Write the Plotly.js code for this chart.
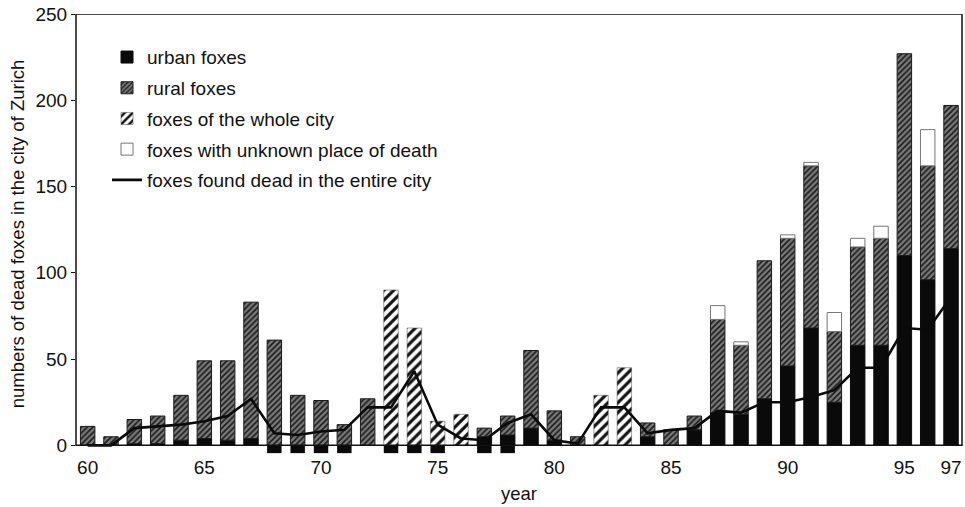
<!DOCTYPE html>
<html>
<head>
<meta charset="utf-8">
<script src="https://cdn.plot.ly/plotly-3.0.1.min.js"></script>
<style>html,body{margin:0;padding:0;background:#fff;}#chart{width:965px;height:507px;}</style>
</head>
<body>
<div id="chart"></div>
<script>
const years = [60,61,62,63,64,65,66,67,68,69,70,71,72,73,74,75,76,77,78,79,80,81,82,83,84,85,86,87,88,89,90,91,92,93,94,95,96,97];
const urbanFoxes = [null,null,1,1,3,4,3,4,null,null,null,null,null,null,null,null,null,5,6,10,3,null,null,null,5,null,9,19,18,27,46,68,25,58,58,110,96,114];
const ruralFoxes = [11,5,14,16,26,45,46,79,61,29,26,12,27,null,null,null,null,5,11,45,17,5,null,null,8,9,8,54,40,80,74,94,41,57,62,117,66,83];
const wholeCityFoxes = [null,null,null,null,null,null,null,null,null,null,null,null,null,90,68,14,18,null,null,null,null,null,29,45,null,null,null,null,null,null,null,null,null,null,null,null,null,null];
const unknownPlace = [null,null,null,null,null,null,null,null,null,null,null,null,null,null,null,null,null,null,null,null,null,null,null,null,null,null,null,8,2,null,2,2,11,5,7,null,21,null];
const foundDeadCity = [0,0,10,11,12,14,17,27,7,6,8,9,22,22,43,12,4,3,13,18,3,1,22,22,7,9,10,20,19,25,25,28,32,45,45,68,67,86];
const belowAxisYears = [68,69,70,71,73,74,75,77,78];
const belowAxisValues = [-4.5,-4.5,-4.5,-4.5,-4.5,-4.5,-4.5,-4.5,-4.5];
const xTickVals = [60,65,70,75,80,85,90,95,97];
const yTickVals = [0,50,100,150,200,250];

const FONT = 'Arial, "Liberation Sans", sans-serif';

const traces = [
  {type:'bar', x: years, y: urbanFoxes, name:'urban foxes', legendgroup:'a',
   marker:{color:'#0a0a0a', line:{color:'#0a0a0a', width:1}}},
  {type:'bar', x: years, y: ruralFoxes, name:'rural foxes', legendgroup:'b',
   marker:{color:'#707070', line:{color:'#1a1a1a', width:1},
     pattern:{shape:'/', bgcolor:'#7a7a7a', fgcolor:'#1a1a1a', size:4, solidity:0.4}}},
  {type:'bar', x: years, y: wholeCityFoxes, name:'foxes of the whole city', legendgroup:'c',
   marker:{color:'#ffffff', line:{color:'#444', width:0.5},
     pattern:{shape:'/', bgcolor:'#ffffff', fgcolor:'#111', size:7, solidity:0.45}}},
  {type:'bar', x: years, y: unknownPlace, name:'foxes with unknown place of death', legendgroup:'d',
   marker:{color:'#ffffff', line:{color:'#777', width:1}}},
  {type:'bar', x: belowAxisYears, y: belowAxisValues, showlegend:false, hoverinfo:'skip',
   marker:{color:'#0a0a0a', line:{width:0}}},
  {type:'scatter', mode:'lines', x: years, y: foundDeadCity, name:'foxes found dead in the entire city', legendgroup:'e',
   line:{color:'#0a0a0a', width:2.6}}
];

const layout = {
  width: 965, height: 507,
  margin: {l:76, r:3, t:14, b:53},
  paper_bgcolor:'#fff', plot_bgcolor:'#fff',
  font: {family: FONT, size: 19, color:'#111'},
  barmode: 'relative',
  bargap: 0.38,
  showlegend: true,
  legend: {x:0.035, y:0.945, xanchor:'left', yanchor:'top', bgcolor:'rgba(0,0,0,0)',
    traceorder:'grouped', tracegroupgap:3, font:{family:FONT, size:19, color:'#111'}},
  xaxis: {range:[59.5, 97.47], tickmode:'array', tickvals: xTickVals, ticktext: xTickVals.map(String),
    showgrid:false, zeroline:false, showline:false, ticks:'', tickfont:{size:19},
    title:{text:'year', font:{size:18.5}, standoff:10}},
  yaxis: {range:[-5, 250], tickmode:'array', tickvals: yTickVals, ticktext: yTickVals.map(String),
    showgrid:false, zeroline:false, showline:false, ticks:'outside', ticklen:4, tickcolor:'#111',
    tickfont:{size:19},
    title:{text:'numbers of dead foxes in the city of Zurich', font:{size:18.5}, standoff:6}},
  shapes: [
    {type:'rect', xref:'paper', yref:'y', x0:0, x1:1, y0:0, y1:250, line:{color:'#111', width:1.5}, layer:'above'}
  ]
};

Plotly.newPlot('chart', traces, layout, {displayModeBar:false, staticPlot:true});
</script>
</body>
</html>
